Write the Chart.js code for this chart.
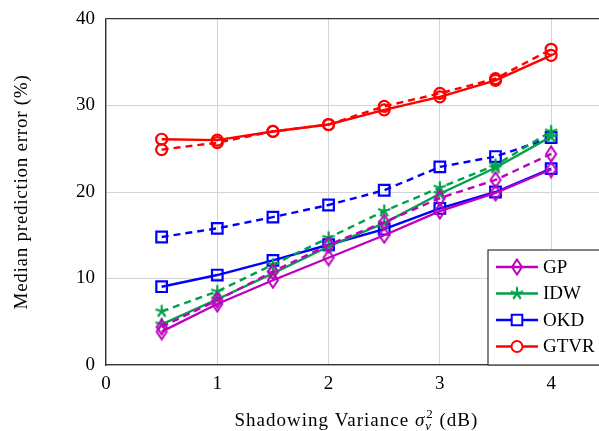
<!DOCTYPE html>
<html>
<head>
<meta charset="utf-8">
<script src="https://cdn.jsdelivr.net/npm/chart.js@4.4.1/dist/chart.umd.min.js"></script>
<style>
  html, body { margin: 0; padding: 0; background: #fff; }
  #wrap { width: 599px; height: 431px; }
</style>
</head>
<body>
<div id="wrap"><canvas id="chart"></canvas></div>
<script>
// Shadowing variance (dB) on the x axis
const variance = [0.5, 1, 1.5, 2, 2.5, 3, 3.5, 4];
const xTicks = [0, 1, 2, 3, 4];
const yTicks = [0, 10, 20, 30, 40];

// Median prediction error (%), solid and dashed runs per method
const gpSolid    = [3.85, 7.05, 9.8, 12.4, 15.0, 17.8, 19.9, 22.6];
const gpDashed   = [4.4, 7.5, 10.8, 13.9, 16.5, 19.3, 21.4, 24.4];
const idwSolid   = [4.7, 7.6, 10.6, 13.7, 16.4, 19.8, 22.8, 26.4];
const idwDashed  = [6.2, 8.5, 11.6, 14.7, 17.8, 20.5, 23.1, 27.0];
const okdSolid   = [9.05, 10.4, 12.1, 13.9, 15.7, 18.1, 20.0, 22.7];
const okdDashed  = [14.8, 15.8, 17.1, 18.5, 20.2, 22.9, 24.1, 26.3];
const gtvrSolid  = [26.1, 26.0, 27.0, 27.8, 29.5, 31.0, 32.9, 35.8];
const gtvrDashed = [24.9, 25.7, 27.0, 27.8, 29.9, 31.4, 33.1, 36.5];

const methods = ['GP', 'IDW', 'OKD', 'GTVR'];

const FONT = '"Liberation Serif", "DejaVu Serif", serif';

// small marker images for the shapes Chart.js lacks
function diamondMarker(color) {
  const c = document.createElement('canvas');
  c.width = 14; c.height = 18;
  const g = c.getContext('2d');
  g.strokeStyle = color;
  g.lineWidth = 2;
  g.beginPath();
  g.moveTo(7, 1.5); g.lineTo(12, 9); g.lineTo(7, 16.5); g.lineTo(2, 9);
  g.closePath();
  g.stroke();
  return c;
}

function asteriskMarker(color) {
  const c = document.createElement('canvas');
  c.width = 16; c.height = 16;
  const g = c.getContext('2d');
  g.strokeStyle = color;
  g.lineWidth = 2.2;
  g.beginPath();
  for (let k = 0; k < 5; k++) {
    const a = -Math.PI / 2 + k * 2 * Math.PI / 5;
    g.moveTo(8, 8);
    g.lineTo(8 + 6.5 * Math.cos(a), 8 + 6.5 * Math.sin(a));
  }
  g.stroke();
  return c;
}

const styles = {
  GP:   { color: '#bf00bf', radius: 7 },
  IDW:  { color: '#00a14b', radius: 7 },
  OKD:  { color: '#0000ff', point: 'rect',   radius: 7.5 },
  GTVR: { color: '#ff0000', point: 'circle', radius: 5.5 }
};
styles.GP.point = diamondMarker(styles.GP.color);
styles.IDW.point = asteriskMarker(styles.IDW.color);

const series = {
  GP: [gpSolid, gpDashed],
  IDW: [idwSolid, idwDashed],
  OKD: [okdSolid, okdDashed],
  GTVR: [gtvrSolid, gtvrDashed]
};

function makeDataset(name, values, dashed) {
  const s = styles[name];
  return {
    label: dashed ? name + ' (dashed)' : name,
    data: variance.map((x, i) => ({ x, y: values[i] })),
    borderColor: s.color,
    backgroundColor: 'transparent',
    borderWidth: 2.4,
    borderDash: dashed ? [7, 5] : [],
    pointStyle: s.point,
    pointRadius: s.radius,
    pointBorderWidth: 2.2,
    pointBorderColor: s.color,
    pointBackgroundColor: 'transparent',
    tension: 0
  };
}

const datasets = [];
methods.forEach((m) => {
  datasets.push(makeDataset(m, series[m][0], false));
  datasets.push(makeDataset(m, series[m][1], true));
});

// Legend box inside the plot, bottom right
const legendPlugin = {
  id: 'insideLegend',
  afterDraw(chart) {
    const { ctx, chartArea } = chart;
    const left = chartArea.right - 111;
    const top = chartArea.bottom - 115;
    ctx.save();
    ctx.fillStyle = '#fff';
    ctx.fillRect(left, top, 130, 115);
    ctx.strokeStyle = '#333';
    ctx.lineWidth = 1.2;
    ctx.strokeRect(left, top, 130, 115);
    ctx.font = '19px ' + FONT;
    ctx.textBaseline = 'middle';
    methods.forEach((m, i) => {
      const s = styles[m];
      const y = top + 17 + i * 26.5;
      ctx.strokeStyle = s.color;
      ctx.lineWidth = 2.4;
      ctx.setLineDash([]);
      ctx.beginPath();
      ctx.moveTo(left + 8, y);
      ctx.lineTo(left + 50, y);
      ctx.stroke();
      ctx.lineWidth = 2;
      ctx.fillStyle = '#fff';
      Chart.helpers.drawPoint(ctx, { pointStyle: s.point, radius: s.radius, borderWidth: 2 }, left + 29, y);
      ctx.fillStyle = '#000';
      ctx.fillText(m, left + 55, y + 1);
    });
    ctx.restore();
  }
};

// axis titles (x title needs sub/superscript)
const titlesPlugin = {
  id: 'axisTitles',
  afterDraw(chart) {
    const { ctx, chartArea } = chart;
    const cx = chart.scales.x.getPixelForValue(2.25);
    const base = 426;
    const big = '19px ' + FONT;
    const bigIt = 'italic 19px ' + FONT;
    const small = '13px ' + FONT;
    const smallIt = 'italic 13px ' + FONT;
    ctx.save();
    ctx.letterSpacing = '1px';
    ctx.fillStyle = '#000';
    ctx.textBaseline = 'alphabetic';
    const pre = 'Shadowing Variance ';
    const post = ' (dB)';
    ctx.font = big; const wPre = ctx.measureText(pre).width; const wPost = ctx.measureText(post).width;
    ctx.font = bigIt; const wSig = ctx.measureText('σ').width;
    ctx.font = small; const wSup = ctx.measureText('2').width;
    ctx.font = smallIt; const wSub = ctx.measureText('v').width;
    const wScript = Math.max(wSup, wSub) + 1;
    let x = cx - (wPre + wSig + wScript + wPost) / 2;
    ctx.font = big; ctx.fillText(pre, x, base); x += wPre;
    ctx.font = bigIt; ctx.fillText('σ', x, base); x += wSig;
    ctx.font = small; ctx.fillText('2', x + 1, base - 8);
    ctx.font = smallIt; ctx.fillText('v', x, base + 4); x += wScript;
    ctx.font = big; ctx.fillText(post, x, base);

    // y title, rotated
    ctx.letterSpacing = '0.75px';
    ctx.font = big;
    ctx.textAlign = 'center';
    ctx.textBaseline = 'middle';
    ctx.translate(22, (chartArea.top + chartArea.bottom) / 2);
    ctx.rotate(-Math.PI / 2);
    ctx.fillText('Median prediction error (%)', 0, 0);
    ctx.restore();
  }
};

Chart.defaults.font.family = FONT;
Chart.defaults.color = '#000';

new Chart(document.getElementById('chart'), {
  type: 'line',
  data: { datasets },
  plugins: [legendPlugin, titlesPlugin],
  options: {
    responsive: true,
    maintainAspectRatio: false,
    animation: false,
    layout: { autoPadding: false, padding: { top: 19, right: 0, left: 0, bottom: 0 } },
    plugins: { legend: { display: false }, tooltip: { enabled: false } },
    scales: {
      x: {
        type: 'linear',
        min: 0,
        max: 4.43,
        afterBuildTicks: (s) => { s.ticks = xTicks.map((v) => ({ value: v })); },
        afterFit: (s) => { s.height = 66; s.paddingLeft = 0; s.paddingRight = 0; },
        ticks: { font: { size: 19 }, padding: 8, color: '#000', includeBounds: false },
        grid: { color: '#d4d4d4', lineWidth: 1, drawTicks: false },
        border: { color: '#333', width: 1.3 }
      },
      y: {
        min: 0,
        max: 40,
        afterBuildTicks: (s) => { s.ticks = yTicks.map((v) => ({ value: v })); },
        afterFit: (s) => { s.width = 106; s.paddingTop = 0; s.paddingBottom = 0; },
        ticks: { font: { size: 19 }, padding: 11, color: '#000' },
        grid: {
          color: (c) => (c.tick && c.tick.value === 40 ? '#333' : '#d4d4d4'),
          lineWidth: (c) => (c.tick && c.tick.value === 40 ? 1.3 : 1),
          drawTicks: false
        },
        border: { color: '#333', width: 1.3 }
      }
    }
  }
});
</script>
</body>
</html>
